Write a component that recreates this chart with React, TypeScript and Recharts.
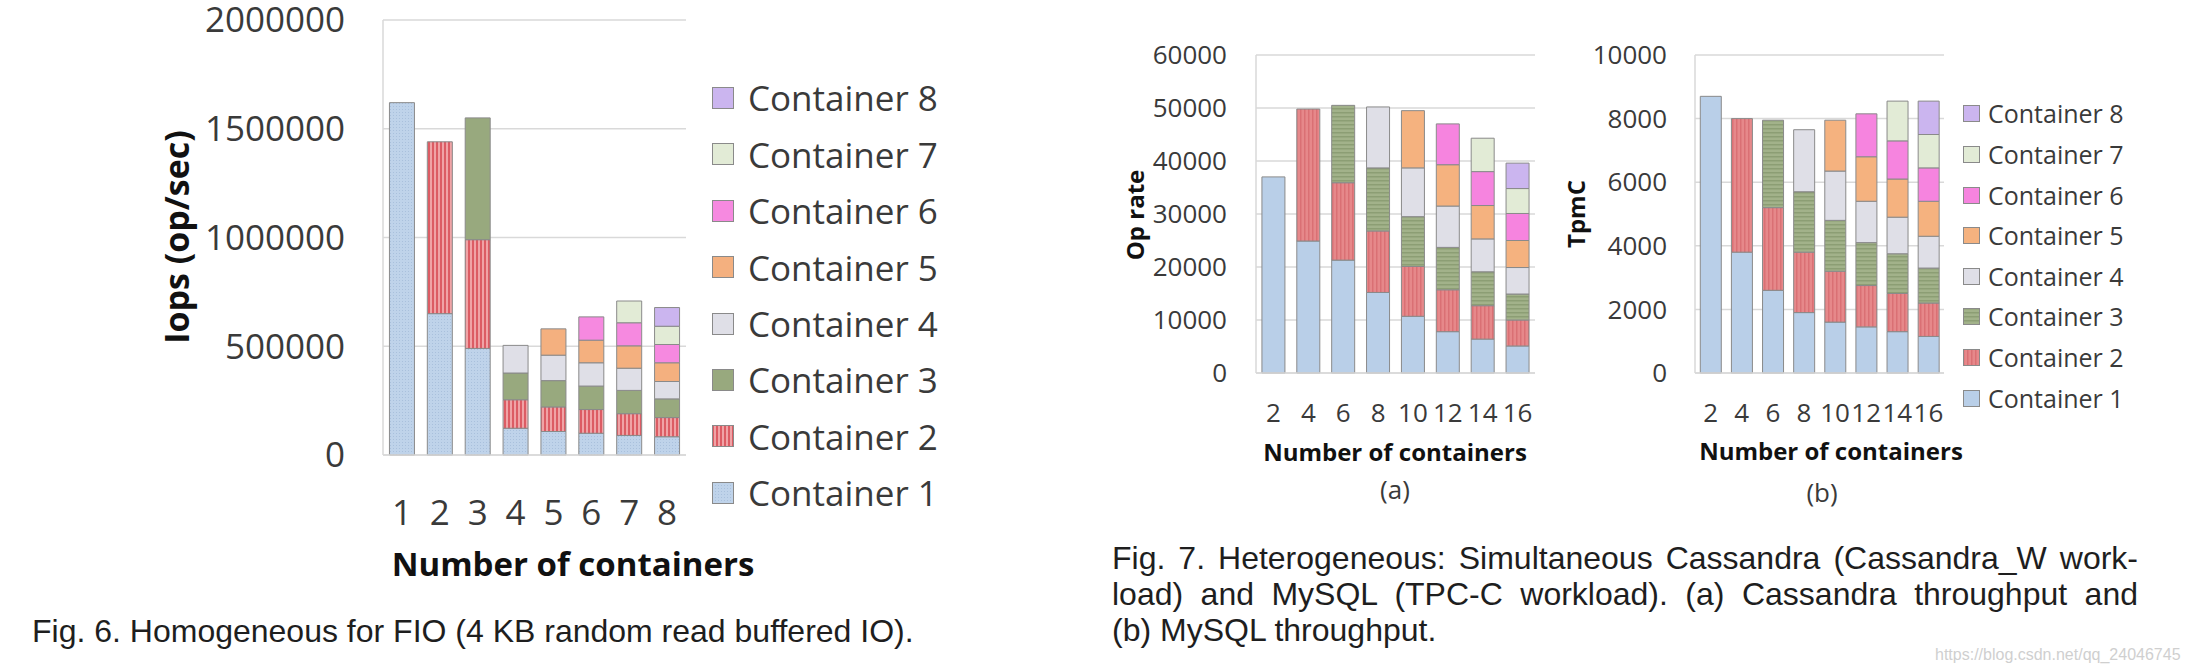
import React from "react";
import { BarChart, Bar, XAxis, YAxis, CartesianGrid } from "recharts";

const containerNames = [
  "Container 1",
  "Container 2",
  "Container 3",
  "Container 4",
  "Container 5",
  "Container 6",
  "Container 7",
  "Container 8",
];

// Fig. 6 - FIO homogeneous
const fioCounts = ["1", "2", "3", "4", "5", "6", "7", "8"];
const fioC1 = [1620000, 650000, 490000, 123000, 108000, 100000, 90000, 84000];
const fioC2 = [null, 790000, 500000, 131000, 113000, 109000, 100000, 88000];
const fioC3 = [null, null, 560000, 123000, 121000, 108000, 107000, 86000];
const fioC4 = [null, null, null, 127000, 117000, 107000, 102000, 80000];
const fioC5 = [null, null, null, null, 121000, 104000, 103000, 86000];
const fioC6 = [null, null, null, null, null, 107000, 106000, 84000];
const fioC7 = [null, null, null, null, null, null, 100000, 84000];
const fioC8 = [null, null, null, null, null, null, null, 86000];
const fioTicks = [0, 500000, 1000000, 1500000, 2000000];

// Fig. 7a - Cassandra op rate
const hetCounts = ["2", "4", "6", "8", "10", "12", "14", "16"];
const cassC1 = [37000, 24900, 21300, 15200, 10700, 7800, 6400, 5100];
const cassC2 = [null, 24900, 14600, 11600, 9400, 7900, 6300, 4900];
const cassC3 = [null, null, 14600, 11900, 9400, 8000, 6400, 4900];
const cassC4 = [null, null, null, 11500, 9200, 7800, 6200, 5000];
const cassC5 = [null, null, null, null, 10800, 7800, 6300, 5100];
const cassC6 = [null, null, null, null, null, 7700, 6400, 5100];
const cassC7 = [null, null, null, null, null, null, 6300, 4700];
const cassC8 = [null, null, null, null, null, null, null, 4800];
const cassTicks = [0, 10000, 20000, 30000, 40000, 50000, 60000];

// Fig. 7b - MySQL TpmC
const sqlC1 = [8700, 3800, 2600, 1900, 1600, 1450, 1300, 1150];
const sqlC2 = [null, 4200, 2600, 1900, 1600, 1300, 1200, 1050];
const sqlC3 = [null, null, 2750, 1900, 1600, 1350, 1250, 1100];
const sqlC4 = [null, null, null, 1950, 1550, 1300, 1150, 1000];
const sqlC5 = [null, null, null, null, 1600, 1400, 1200, 1100];
const sqlC6 = [null, null, null, null, null, 1350, 1200, 1050];
const sqlC7 = [null, null, null, null, null, null, 1250, 1050];
const sqlC8 = [null, null, null, null, null, null, null, 1050];
const sqlTicks = [0, 2000, 4000, 6000, 8000, 10000];

const keys = ["c1", "c2", "c3", "c4", "c5", "c6", "c7", "c8"];

function buildRows(cats: string[], series: (number | null)[][]) {
  return cats.map((n, i) => {
    const row: Record<string, any> = { n };
    series.forEach((s, j) => (row[keys[j]] = s[i]));
    return row;
  });
}

const fioRows = buildRows(fioCounts, [fioC1, fioC2, fioC3, fioC4, fioC5, fioC6, fioC7, fioC8]);
const cassRows = buildRows(hetCounts, [cassC1, cassC2, cassC3, cassC4, cassC5, cassC6, cassC7, cassC8]);
const sqlRows = buildRows(hetCounts, [sqlC1, sqlC2, sqlC3, sqlC4, sqlC5, sqlC6, sqlC7, sqlC8]);

const fioFills = [
  "url(#blueDots)",
  "url(#redStripes)",
  "#98a97e",
  "#dfdfe7",
  "#f4b07f",
  "#f689e0",
  "#e2ebd6",
  "#cbb5ef",
];
const hetFills = [
  "#b9cfe8",
  "url(#redSoft)",
  "url(#greenStripes)",
  "#dfdfe7",
  "#f5b27f",
  "#f684df",
  "#e2ebd6",
  "#cbb5ef",
];

const TICK_COLOR = "#3a3a3a";
const FONT = "'Open Sans', sans-serif";
const CAP_FONT = "'Liberation Sans', Arial, sans-serif";

function Patterns() {
  return (
    <svg width={0} height={0} style={{ position: "absolute" }}>
      <defs>
        <pattern id="blueDots" width={3} height={3} patternUnits="userSpaceOnUse">
          <rect width={3} height={3} fill="#bfd3ea" />
          <rect width={1} height={1} fill="#a9c0dc" />
        </pattern>
        <pattern id="redStripes" width={4} height={4} patternUnits="userSpaceOnUse">
          <rect width={4} height={4} fill="#f0a3a6" />
          <rect width={2} height={4} fill="#dc5c64" />
        </pattern>
        <pattern id="redSoft" width={4} height={4} patternUnits="userSpaceOnUse">
          <rect width={4} height={4} fill="#e6888a" />
          <rect width={1.5} height={4} fill="#da7074" />
        </pattern>
        <pattern id="greenStripes" width={4} height={4} patternUnits="userSpaceOnUse">
          <rect width={4} height={4} fill="#a2b28a" />
          <rect width={4} height={1.5} fill="#8c9e74" />
        </pattern>
      </defs>
    </svg>
  );
}

type ChartProps = {
  rows: any[];
  width: number;
  height: number;
  top: number;
  bottom: number;
  yWidth: number;
  ticks: number[];
  fills: string[];
  fontSize: number;
  xMargin: number;
  yMargin: number;
};

function StackChart(p: ChartProps) {
  const tickStyle = { fontSize: p.fontSize, fill: TICK_COLOR, fontFamily: FONT };
  return (
    <BarChart
      width={p.width}
      height={p.height}
      data={p.rows}
      margin={{ top: p.top, right: 4, left: 0, bottom: 0 }}
      barCategoryGap="17%"
    >
      <CartesianGrid vertical={false} stroke="#d9d9d9" strokeWidth={1.5} />
      <XAxis
        dataKey="n"
        height={p.height - p.bottom}
        interval={0}
        tickLine={false}
        tickSize={0}
        tickMargin={p.xMargin}
        axisLine={{ stroke: "#d9d9d9", strokeWidth: 1.5 }}
        tick={tickStyle}
      />
      <YAxis
        type="number"
        width={p.yWidth}
        domain={[0, p.ticks[p.ticks.length - 1]]}
        ticks={p.ticks}
        interval={0}
        tickLine={false}
        tickSize={0}
        tickMargin={p.yMargin}
        axisLine={{ stroke: "#d9d9d9", strokeWidth: 1.5 }}
        tick={tickStyle}
      />
      {keys.map((k, i) => (
        <Bar
          key={k}
          dataKey={k}
          stackId="s"
          fill={p.fills[i]}
          stroke="#8a8a8a"
          strokeWidth={1}
          isAnimationActive={false}
        />
      ))}
    </BarChart>
  );
}

function Txt(props: {
  x: number;
  y: number;
  size: number;
  bold?: boolean;
  rotate?: boolean;
  children: React.ReactNode;
}) {
  return (
    <div
      style={{
        position: "absolute",
        left: props.x,
        top: props.y,
        transform: `translate(-50%, -50%)${props.rotate ? " rotate(-90deg)" : ""}`,
        fontFamily: FONT,
        fontSize: props.size,
        fontWeight: props.bold ? 700 : 400,
        color: props.bold ? "#111" : TICK_COLOR,
        whiteSpace: "nowrap",
        lineHeight: 1,
      }}
    >
      {props.children}
    </div>
  );
}

function LegendList(props: {
  left: number;
  top: number;
  gap: number;
  box: number;
  textX: number;
  size: number;
  fills: string[];
}) {
  const order = [7, 6, 5, 4, 3, 2, 1, 0];
  return (
    <>
      {order.map((idx, k) => {
        const cy = props.top + k * props.gap;
        return (
          <div
            key={idx}
            style={{
              position: "absolute",
              left: props.left,
              top: cy - props.gap / 2,
              height: props.gap,
              display: "flex",
              alignItems: "center",
            }}
          >
            <svg width={props.box} height={props.box} style={{ display: "block" }}>
              <rect
                x={0.5}
                y={0.5}
                width={props.box - 1}
                height={props.box - 1}
                fill={props.fills[idx]}
                stroke="#8a8a8a"
                strokeWidth={1}
              />
            </svg>
            <span
              style={{
                marginLeft: props.textX - props.left - props.box,
                fontFamily: FONT,
                fontSize: props.size,
                color: TICK_COLOR,
                whiteSpace: "nowrap",
                lineHeight: 1,
              }}
            >
              {containerNames[idx]}
            </span>
          </div>
        );
      })}
    </>
  );
}

function Caption(props: { x: number; y: number; width?: number; justify?: boolean; children: React.ReactNode }) {
  return (
    <div
      style={{
        position: "absolute",
        left: props.x,
        top: props.y,
        width: props.width,
        transform: "translateY(-50%)",
        fontFamily: CAP_FONT,
        fontSize: 32,
        lineHeight: 1.1,
        color: "#1e1e1e",
        whiteSpace: "nowrap",
        textAlign: props.justify ? "justify" : "left",
        textAlignLast: props.justify ? "justify" : "left",
      }}
    >
      {props.children}
    </div>
  );
}

export default function App() {
  return (
    <div
      style={{
        position: "absolute",
        left: 0,
        top: 0,
        width: 2188,
        height: 672,
        background: "#fff",
        overflow: "hidden",
      }}
    >
      <Patterns />

      {/* Fig. 6 */}
      <div style={{ position: "absolute", left: 0, top: -14 }}>
        <StackChart
          rows={fioRows}
          width={690}
          height={549}
          top={34}
          bottom={469}
          yWidth={383}
          ticks={fioTicks}
          fills={fioFills}
          fontSize={35}
          xMargin={45}
          yMargin={38}
        />
      </div>
      <Txt x={176} y={237} size={34} bold rotate>
        Iops (op/sec)
      </Txt>
      <Txt x={573} y={563} size={33} bold>
        Number of containers
      </Txt>
      <LegendList left={712} top={98} gap={56.4} box={22} textX={748} size={35} fills={fioFills} />
      <Caption x={32} y={632}>
        Fig. 6. Homogeneous for FIO (4 KB random read buffered IO).
      </Caption>

      {/* Fig. 7a */}
      <div style={{ position: "absolute", left: 1100, top: 0 }}>
        <StackChart
          rows={cassRows}
          width={439}
          height={453}
          top={55}
          bottom={373}
          yWidth={156}
          ticks={cassTicks}
          fills={hetFills}
          fontSize={26}
          xMargin={31}
          yMargin={29}
        />
      </div>
      <Txt x={1135} y={215} size={24} bold rotate>
        Op rate
      </Txt>
      <Txt x={1395} y={452} size={24} bold>
        Number of containers
      </Txt>
      <Txt x={1395} y={489} size={26}>
        (a)
      </Txt>

      {/* Fig. 7b */}
      <div style={{ position: "absolute", left: 1560, top: 0 }}>
        <StackChart
          rows={sqlRows}
          width={388}
          height={453}
          top={55}
          bottom={373}
          yWidth={135}
          ticks={sqlTicks}
          fills={hetFills}
          fontSize={26}
          xMargin={31}
          yMargin={28}
        />
      </div>
      <Txt x={1576} y={214} size={24} bold rotate>
        TpmC
      </Txt>
      <Txt x={1831} y={451} size={24} bold>
        Number of containers
      </Txt>
      <Txt x={1822} y={492} size={26}>
        (b)
      </Txt>
      <LegendList left={1963} top={114} gap={40.6} box={17} textX={1988} size={25} fills={hetFills} />

      <Caption x={1112} y={559} width={1026} justify>
        Fig. 7. Heterogeneous: Simultaneous Cassandra (Cassandra_W work-
      </Caption>
      <Caption x={1112} y={595} width={1026} justify>
        load) and MySQL (TPC-C workload). (a) Cassandra throughput and
      </Caption>
      <Caption x={1112} y={631}>
        (b) MySQL throughput.
      </Caption>
      <div
        style={{
          position: "absolute",
          left: 1935,
          top: 655,
          transform: "translateY(-50%)",
          fontFamily: CAP_FONT,
          fontSize: 16,
          color: "#cfcfcf",
          whiteSpace: "nowrap",
        }}
      >
        https://blog.csdn.net/qq_24046745
      </div>
    </div>
  );
}
